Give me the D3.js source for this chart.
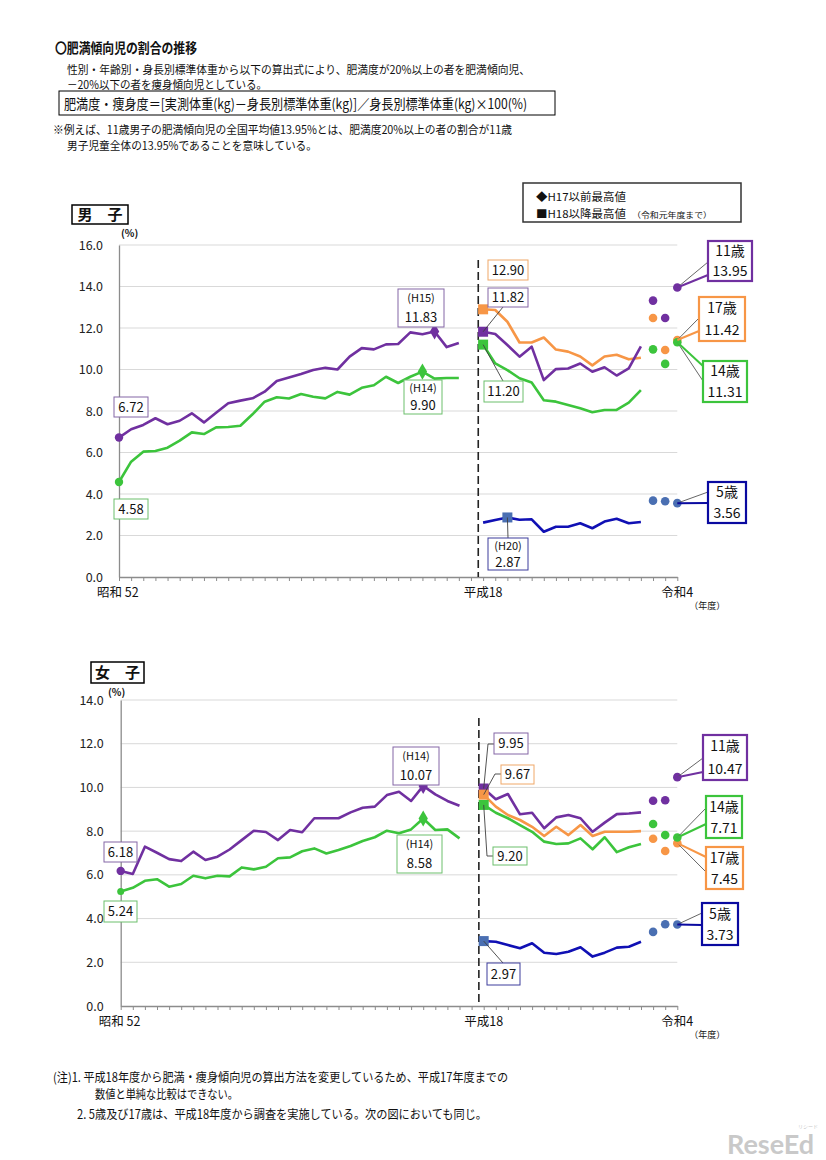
<!DOCTYPE html>
<html><head><meta charset="utf-8">
<script src="https://cdn.jsdelivr.net/npm/d3@7"></script>
<style>
body{margin:0;background:#fff}
svg{display:block}
text{font-family:"Noto Sans CJK JP","Noto Sans",sans-serif;fill:#111}
</style>
</head><body>
<svg id="c" width="826" height="1160"></svg>
<script>
// ---------- categories ----------
const yearsEarly = [1977,1978,1979,1980,1981,1982,1983,1984,1985,1986,1987,1988,1989,1990,1991,1992,1993,1994,1995,1996,1997,1998,1999,2000,2001,2002,2003,2004,2005];
const yearsLate = [2006,2007,2008,2009,2010,2011,2012,2013,2014,2015,2016,2017,2018,2019];
const yearsRecent = [2020,2021,2022];
const xTickLabels = [{year:1977,label:"昭和 52"},{year:2006,label:"平成18"},{year:2022,label:"令和4"}];
const yTicksBoys = [0,2,4,6,8,10,12,14,16];
const yTicksGirls = [0,2,4,6,8,10,12,14];

// ---------- 男子 ----------
const boy11Early = [6.72,7.12,7.33,7.65,7.36,7.53,7.89,7.45,7.92,8.37,8.50,8.61,8.93,9.45,9.61,9.78,9.98,10.08,10.00,10.62,11.03,10.97,11.21,11.23,11.79,11.70,11.83,11.08,11.28];
const boy14Early = [4.58,5.56,6.04,6.07,6.23,6.57,6.97,6.89,7.21,7.23,7.29,7.84,8.45,8.66,8.60,8.82,8.69,8.61,8.92,8.79,9.12,9.24,9.65,9.35,9.65,9.90,9.56,9.59,9.59];
const boy17Late = [12.90,12.87,12.30,11.30,11.30,11.54,10.96,10.86,10.63,10.20,10.63,10.71,10.49,10.57];
const boy11Late = [11.82,11.71,11.18,10.62,11.10,9.49,10.02,10.05,10.29,9.89,10.11,9.71,10.05,11.12];
const boy14Late = [11.20,10.29,9.97,9.58,9.37,8.52,8.45,8.29,8.13,7.94,8.05,8.05,8.40,9.01];
const boy5Late = [2.62,2.75,2.87,2.76,2.78,2.18,2.42,2.42,2.59,2.35,2.67,2.81,2.59,2.65];
const boy11Recent = [13.32,12.48,13.95];
const boy17Recent = [12.48,10.94,11.42];
const boy14Recent = [10.97,10.27,11.31];
const boy5Recent = [3.68,3.65,3.56];

// ---------- 女子 ----------
const girl11Early = [6.18,6.04,7.29,7.01,6.72,6.63,7.06,6.68,6.83,7.16,7.59,8.02,7.96,7.59,8.05,7.95,8.59,8.59,8.59,8.86,9.07,9.12,9.65,9.80,9.38,10.07,9.68,9.38,9.16];
const girl14Early = [5.24,5.41,5.73,5.80,5.46,5.58,5.96,5.84,5.96,5.93,6.34,6.25,6.37,6.76,6.80,7.08,7.21,6.98,7.14,7.32,7.55,7.72,8.02,7.90,8.08,8.58,8.05,8.08,7.67];
const girl11Late = [9.95,9.46,9.70,8.77,8.84,8.13,8.63,8.74,8.59,7.97,8.39,8.78,8.81,8.86];
const girl17Late = [9.67,9.12,8.74,8.51,8.20,7.78,8.20,7.82,8.28,7.78,7.97,7.97,7.97,8.00];
const girl14Late = [9.20,8.84,8.59,8.28,7.97,7.52,7.41,7.44,7.67,7.17,7.72,7.04,7.26,7.41];
const girl5Late = [2.97,2.94,2.79,2.64,2.87,2.44,2.38,2.48,2.69,2.26,2.44,2.67,2.71,2.94];
const girl11Recent = [9.39,9.41,10.47];
const girl14Recent = [8.33,7.82,7.71];
const girl17Recent = [7.65,7.09,7.45];
const girl5Recent = [3.39,3.74,3.73];

// ---------- styles ----------
const COL = {purple:"#7030a0", green:"#3cc43c", orange:"#f79646", blue:"#1010b4", blueMark:"#4a6fb2"};
const BOX = {purple:"#8466a6", green:"#6cbf6c", orange:"#f0a868", blue:"#3c3c9c"};
const idx = yr => yr <= 2005 ? yr - 1977 : yr - 1976;

const svg = d3.select("#c");
svg.append("rect").attr("width",826).attr("height",1160).attr("fill","#fff");

// ---------- header ----------
function txt(x,y,s,opt){
  const t = svg.append("text").attr("x",x).attr("y",y).attr("font-size",opt.fs||12).text(s);
  if(opt.bold) t.attr("font-weight","bold");
  if(opt.len) t.attr("textLength",opt.len).attr("lengthAdjust","spacingAndGlyphs");
  if(opt.anchor) t.attr("text-anchor",opt.anchor);
  if(opt.fill) t.style("fill",opt.fill);
  return t;
}
txt(55,53,"〇肥満傾向児の割合の推移",{fs:13.5,bold:true,len:142});
txt(67,73.5,"性別・年齢別・身長別標準体重から以下の算出式により、肥満度が20%以上の者を肥満傾向児、",{fs:11.5,len:463});
txt(67,89,"－20%以下の者を痩身傾向児としている。",{fs:11.5,len:200});
svg.append("rect").attr("x",59).attr("y",91).attr("width",496).attr("height",24).attr("fill","none").attr("stroke","#000").attr("stroke-width",1);
txt(64,108.5,"肥満度・痩身度＝[実測体重(kg)－身長別標準体重(kg)]／身長別標準体重(kg)×100(%)",{fs:14,len:463});
txt(53,133.5,"※例えば、11歳男子の肥満傾向児の全国平均値13.95%とは、肥満度20%以上の者の割合が11歳",{fs:11.5,len:459});
txt(67,149.5,"男子児童全体の13.95%であることを意味している。",{fs:11.5,len:250});

// footnotes
txt(53,1082,"(注)1. 平成18年度から肥満・痩身傾向児の算出方法を変更しているため、平成17年度までの",{fs:12.5,len:455});
txt(95,1099,"数値と単純な比較はできない。",{fs:12.5,len:143});
txt(77,1119,"2. 5歳及び17歳は、平成18年度から調査を実施している。次の図においても同じ。",{fs:12.5,len:410});
svg.append("text").attr("x",727).attr("y",1154).attr("font-size",27).attr("font-weight","bold")
  .style("font-family","Lato, sans-serif").style("fill","#c9c9c9").text("ReseEd");
svg.append("text").attr("x",818).attr("y",1128).attr("font-size",5).attr("text-anchor","end").style("fill","#c9c9c9").text("リシード");

// legend (top chart)
svg.append("rect").attr("x",523).attr("y",183).attr("width",218).attr("height",39).attr("fill","#fff").attr("stroke","#333").attr("stroke-width",1.5);
txt(536,201,"◆H17以前最高値",{fs:11,len:90});
txt(536,218,"■H18以降最高値",{fs:11,len:90});
txt(632,218,"（令和元年度まで）",{fs:8,len:80});

// ---------- chart builder ----------
function callout(g,a){
  g.append("rect").attr("x",a.x).attr("y",a.y).attr("width",a.w).attr("height",a.h)
    .attr("fill","#fff").attr("stroke",a.color).attr("stroke-width",a.sw||1);
  const n = a.lines.length;
  a.lines.forEach((t,i)=>{
    g.append("text").attr("x",a.x+a.w/2).attr("y",a.y+a.h*(i+0.5)/n).attr("dy","0.36em")
      .attr("text-anchor","middle").attr("font-size",(a.fs&&a.fs[i])||13).text(t);
  });
}

function drawChart(cfg){
  const g = svg.append("g");
  const x = d3.scaleLinear().domain([0,46]).range([cfg.x0,cfg.x1]);
  const y = d3.scaleLinear().domain([0,cfg.yMax]).range([cfg.yBottom,cfg.yTop]);
  const X = yr => x(idx(yr));

  g.append("rect").attr("x",cfg.title.x).attr("y",cfg.title.y).attr("width",cfg.title.w).attr("height",cfg.title.h)
    .attr("fill","#fff").attr("stroke","#000").attr("stroke-width",1.5);
  g.append("text").attr("x",cfg.title.x+cfg.title.w/2).attr("y",cfg.title.y+cfg.title.h/2).attr("dy","0.36em")
    .attr("text-anchor","middle").attr("font-size",15).attr("font-weight","bold").text(cfg.title.text);
  g.append("text").attr("x",cfg.pct.x).attr("y",cfg.pct.y).attr("dy","0.36em").attr("font-size",10).attr("font-weight","bold").text("(%)");

  g.selectAll(null).data(cfg.yTicks.filter(t=>t>0)).join("line")
    .attr("x1",cfg.x0).attr("x2",cfg.x1).attr("y1",d=>y(d)).attr("y2",d=>y(d))
    .attr("stroke","#d9d9d9").attr("stroke-width",1);

  const ya = g.append("g").attr("transform",`translate(${cfg.x0},0)`)
    .call(d3.axisLeft(y).tickValues(cfg.yTicks).tickSize(0).tickPadding(cfg.yPad).tickFormat(d3.format(".1f")));
  ya.select(".domain").attr("stroke","#8c8c8c").attr("stroke-width",1.3);
  ya.selectAll("text").attr("font-size",12.5).style("font-family",'"Noto Sans CJK JP",sans-serif').style("fill","#222");

  const xa = g.append("g").attr("transform",`translate(0,${cfg.yBottom})`)
    .call(d3.axisBottom(x).tickValues(d3.range(0,47)).tickSize(4).tickSizeOuter(0).tickFormat(""));
  xa.select(".domain").attr("stroke","#8c8c8c").attr("stroke-width",1.3);
  xa.selectAll(".tick line").attr("stroke","#8c8c8c");
  xTickLabels.forEach(t=>{
    const tt = g.append("text").attr("y",cfg.yBottom+20).attr("font-size",12.5).text(t.label);
    if(t.year===1977) tt.attr("x",cfg.x0-22); else tt.attr("x",X(t.year)).attr("text-anchor","middle");
  });
  g.append("text").attr("x",X(2022)+12).attr("y",cfg.yBottom+32).attr("font-size",9).text("（年度）");

  g.append("line").attr("x1",x(29.6)).attr("x2",x(29.6)).attr("y1",cfg.dashTop).attr("y2",cfg.yBottom)
    .attr("stroke","#222").attr("stroke-width",1.6).attr("stroke-dasharray","8,4");

  const line = d3.line().x(d=>X(d.yr)).y(d=>y(d.v));
  const pts = (yrs,vals)=>yrs.map((yr,i)=>({yr,v:vals[i]}));

  cfg.early.forEach(s=>{
    g.append("path").datum(pts(yearsEarly,s.values)).attr("d",line).attr("fill","none").attr("stroke",s.color).attr("stroke-width",2.6).attr("stroke-linejoin","round");
  });
  cfg.late.forEach(s=>{
    g.append("path").datum(pts(yearsLate,s.values)).attr("d",line).attr("fill","none").attr("stroke",s.color).attr("stroke-width",2.6).attr("stroke-linejoin","round");
  });
  cfg.early.forEach(s=>{
    const p = pts(yearsEarly,s.values);
    g.append("circle").attr("cx",X(p[0].yr)).attr("cy",y(p[0].v)).attr("r",s.startR||4.2).attr("fill",s.color);
    const m = p[d3.maxIndex(s.values)];
    g.append("path").attr("d",d3.symbol(d3.symbolDiamond,75)()).attr("transform",`translate(${X(m.yr)},${y(m.v)})`).attr("fill",s.color);
  });
  cfg.squareOrder.forEach(k=>{
    const s = cfg.late.find(d=>d.key===k);
    const p = pts(yearsLate,s.values);
    const m = p[d3.maxIndex(s.values)];
    g.append("rect").attr("x",X(m.yr)-5).attr("y",y(m.v)-5).attr("width",10).attr("height",10).attr("fill",s.mark||s.color);
  });
  cfg.recent.forEach(s=>{
    g.selectAll(null).data(pts(yearsRecent,s.values)).join("circle")
      .attr("cx",d=>X(d.yr)).attr("cy",d=>y(d.v)).attr("r",4.3).attr("fill",s.color);
  });

  cfg.notes.forEach(a=>{
    if(a.leader){
      const target = [X(a.target[0]), y(a.target[1])];
      g.append("polyline").attr("points",[...a.leader, target].map(p=>p.join(",")).join(" "))
        .attr("fill","none").attr("stroke","#404040").attr("stroke-width",0.9);
    }
  });
  cfg.notes.forEach(a=>callout(g,a));

  cfg.right.forEach(a=>{
    const dot = [X(2022), y(a.v)];
    g.append("line").attr("x1",dot[0]).attr("y1",dot[1]).attr("x2",a.x).attr("y2",a.ya).attr("stroke","#555").attr("stroke-width",0.9);
    g.append("line").attr("x1",dot[0]).attr("y1",dot[1]).attr("x2",a.x).attr("y2",a.yb).attr("stroke",a.color).attr("stroke-width",2);
    callout(g,{...a,sw:2.2,fs:[14,14]});
  });
}

// ---------- 男子 chart ----------
drawChart({
  x0:119, x1:677.3, yTop:245, yBottom:577, yMax:16, yTicks:yTicksBoys, yPad:16, dashTop:260,
  title:{x:72,y:205,w:56,h:19,text:"男　子"}, pct:{x:121,y:233},
  early:[{key:"11",values:boy11Early,color:COL.purple},{key:"14",values:boy14Early,color:COL.green}],
  late:[{key:"17",values:boy17Late,color:COL.orange},{key:"11",values:boy11Late,color:COL.purple},
        {key:"14",values:boy14Late,color:COL.green},{key:"5",values:boy5Late,color:COL.blue,mark:COL.blueMark}],
  squareOrder:["17","11","14","5"],
  recent:[{values:boy11Recent,color:COL.purple},{values:boy17Recent,color:COL.orange},
          {values:boy14Recent,color:COL.green},{values:boy5Recent,color:COL.blueMark}],
  notes:[
    {x:114,y:397,w:34,h:20,lines:["6.72"],color:BOX.purple},
    {x:114,y:499,w:34,h:20,lines:["4.58"],color:BOX.green},
    {x:398,y:289,w:46,h:38,lines:["(H15)","11.83"],color:BOX.purple,fs:[11,13]},
    {x:404,y:380,w:38,h:34,lines:["(H14)","9.90"],color:BOX.green,fs:[11,13]},
    {x:488,y:260,w:40,h:20,lines:["12.90"],color:BOX.orange},
    {x:488,y:288,w:40,h:19,lines:["11.82"],color:BOX.purple,leader:[[503,307]],target:[2006,boy11Late[0]]},
    {x:484,y:381,w:39,h:21,lines:["11.20"],color:BOX.green,leader:[[503,381]],target:[2006,boy14Late[0]]},
    {x:488,y:538,w:40,h:32,lines:["(H20)","2.87"],color:BOX.blue,fs:[11,13],leader:[[508,538]],target:[2008,boy5Late[2]]}
  ],
  right:[
    {x:708,y:241,w:44,h:40,lines:["11歳","13.95"],color:COL.purple,v:boy11Recent[2],ya:262,yb:275},
    {x:699,y:297,w:46,h:44,lines:["17歳","11.42"],color:COL.orange,v:boy17Recent[2],ya:318,yb:331},
    {x:703,y:361,w:44,h:41,lines:["14歳","11.31"],color:COL.green,v:boy14Recent[2],ya:381,yb:366},
    {x:708,y:482,w:38,h:41,lines:["5歳","3.56"],color:"#0a0aa0",v:boy5Recent[2],ya:492,yb:503}
  ]
});

// ---------- 女子 chart ----------
drawChart({
  x0:120.7, x1:677.3, yTop:700, yBottom:1006, yMax:14, yTicks:yTicksGirls, yPad:17, dashTop:718,
  title:{x:91,y:662,w:53,h:21,text:"女　子"}, pct:{x:108,y:692},
  early:[{key:"11",values:girl11Early,color:COL.purple},{key:"14",values:girl14Early,color:COL.green,startR:3.5}],
  late:[{key:"11",values:girl11Late,color:COL.purple},{key:"17",values:girl17Late,color:COL.orange},
        {key:"14",values:girl14Late,color:COL.green},{key:"5",values:girl5Late,color:COL.blue,mark:COL.blueMark}],
  squareOrder:["11","14","17","5"],
  recent:[{values:girl11Recent,color:COL.purple},{values:girl17Recent,color:COL.orange},
          {values:girl14Recent,color:COL.green},{values:girl5Recent,color:COL.blueMark}],
  notes:[
    {x:104,y:842,w:33,h:20,lines:["6.18"],color:BOX.purple},
    {x:104,y:901,w:33,h:21,lines:["5.24"],color:BOX.green},
    {x:393,y:747,w:46,h:38,lines:["(H14)","10.07"],color:BOX.purple,fs:[11,13]},
    {x:397,y:835,w:45,h:38,lines:["(H14)","8.58"],color:BOX.green,fs:[11,13]},
    {x:494,y:733,w:34,h:21,lines:["9.95"],color:BOX.purple,leader:[[494,744],[488,744]],target:[2006,girl11Late[0]]},
    {x:501,y:765,w:33,h:19,lines:["9.67"],color:BOX.orange,leader:[[501,774],[495,774]],target:[2006,girl17Late[0]]},
    {x:493,y:847,w:34,h:18,lines:["9.20"],color:BOX.green,leader:[[493,856],[487,856]],target:[2006,girl14Late[0]]},
    {x:487,y:963,w:33,h:22,lines:["2.97"],color:BOX.blue,leader:[[503,963]],target:[2006,girl5Late[0]]}
  ],
  right:[
    {x:703,y:735,w:44,h:45,lines:["11歳","10.47"],color:COL.purple,v:girl11Recent[2],ya:758,yb:772},
    {x:706,y:796,w:36,h:42,lines:["14歳","7.71"],color:COL.green,v:girl14Recent[2],ya:808,yb:824},
    {x:706,y:847,w:37,h:42,lines:["17歳","7.45"],color:COL.orange,v:girl17Recent[2],ya:872,yb:857},
    {x:702,y:903,w:36,h:42,lines:["5歳","3.73"],color:"#0a0aa0",v:girl5Recent[2],ya:913,yb:925}
  ]
});
</script>
</body></html>
